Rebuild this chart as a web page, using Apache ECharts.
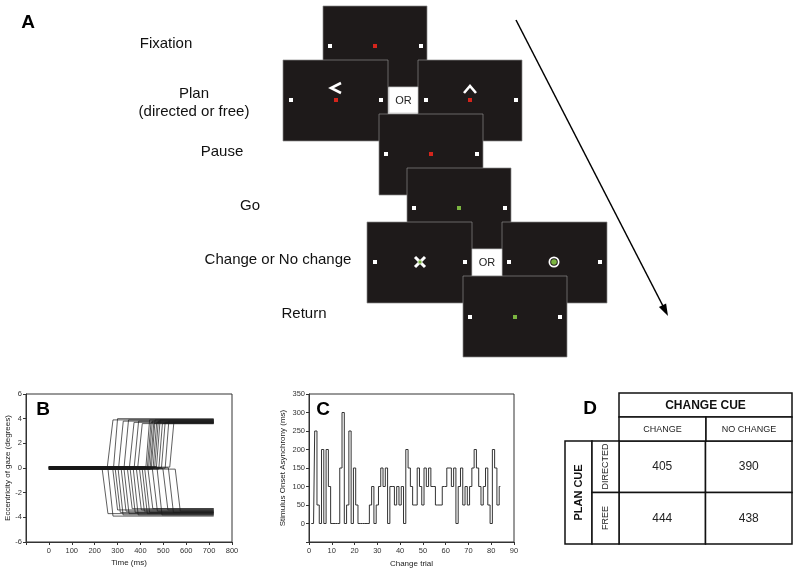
<!DOCTYPE html>
<html><head><meta charset="utf-8">
<script src="https://cdn.jsdelivr.net/npm/echarts@6/dist/echarts.min.js"></script>
<style>html,body{margin:0;padding:0;background:#fff}#c{width:800px;height:577px}</style>
</head><body><div id="c"></div>
<script>
// ---------- Panel A: stage labels ----------
const stageLabels = ['Fixation', 'Plan', '(directed or free)', 'Pause', 'Go', 'Change or No change', 'Return'];

// ---------- Panel B: gaze traces (ms, degrees) ----------
const tStart = 0, tEnd = 720;
const upOnset  = [255, 282, 305, 328, 352, 372, 388, 424, 430, 436, 442, 448, 455, 462, 470, 480, 492, 508, 528];
const upArrive = [280, 300, 325, 348, 372, 392, 408, 440, 446, 452, 458, 464, 471, 478, 486, 496, 508, 524, 546];
const upLevel  = [3.9, 4.0, 3.8, 3.9, 3.7, 3.8, 3.6, 3.9, 3.7, 3.8, 3.6, 3.9, 3.7, 3.8, 3.9, 3.6, 3.7, 3.8, 3.7];
const upBase   = [0.05, -0.08, 0.1, -0.05, 0.08, -0.1, 0.03, 0.12, -0.03, 0.06, -0.12, 0.09, -0.06, 0.02, 0.1, -0.09, 0.04, -0.02, 0.07];
const downOnset  = [232, 258, 278, 290, 302, 315, 328, 342, 355, 368, 382, 395, 408, 418, 432, 452, 472, 498, 522, 552];
const downArrive = [258, 280, 300, 312, 324, 337, 350, 364, 377, 390, 404, 417, 430, 440, 454, 474, 494, 520, 544, 574];
const downLevel  = [-3.7, -3.9, -3.4, -3.6, -3.8, -3.5, -3.7, -3.3, -3.6, -3.8, -3.4, -3.5, -3.7, -3.6, -3.3, -3.5, -3.8, -3.4, -3.6, -3.5];
const downBase   = [0.04, -0.06, 0.09, -0.11, 0.02, 0.07, -0.04, 0.11, -0.08, 0.05, -0.02, 0.08, -0.1, 0.03, 0.06, -0.07, 0.1, -0.05, 0.01, -0.09];

// ---------- Panel C: stimulus onset asynchrony per change trial (ms) ----------
const soa = [0,0,250,50,0,200,0,200,100,0, 0,0,0,150,300,0,50,250,0,150,
             50,0,0,0,0,0,50,100,0,50, 100,150,100,150,0,100,100,50,100,50,
             100,0,200,150,100,50,50,150,100,50, 150,100,150,100,100,50,50,50,100,100,
             150,150,100,150,0,100,150,50,100,50, 100,150,200,150,100,50,100,150,50,0,
             200,150,50,100];

// ---------- Panel D: table ----------
const changeCats = ['CHANGE', 'NO CHANGE'];
const planCats = ['DIRECTED', 'FREE'];
const latency = [[405, 390], [444, 438]];

const FONT = '"Liberation Sans", Arial, sans-serif';
const chart = echarts.init(document.getElementById('c'), null, {renderer: 'canvas'});

// ---------- graphics for panel A and table headers ----------
const g = [];
const SCREEN = '#1e1a1a', EDGE = '#8a8a8a', WHITE = '#ffffff', RED = '#d4251c', GREEN = '#7bb540';
function txt(s, x, y, font, color, rot) {
  g.push({type: 'text', x: x, y: y, rotation: rot || 0,
    style: {text: s, font: font, fill: color || '#111', textAlign: 'center', textVerticalAlign: 'middle', align: 'center', verticalAlign: 'middle'}});
}
function scr(x, y, w, h) { g.push({type: 'rect', shape: {x: x, y: y, width: w, height: h}, style: {fill: SCREEN, stroke: EDGE, lineWidth: 0.7}}); }
function dot(cx, cy, c) { g.push({type: 'rect', shape: {x: cx - 2, y: cy - 2, width: 4, height: 4}, style: {fill: c}}); }
function orBox(x, y, w, h) {
  g.push({type: 'rect', shape: {x: x, y: y, width: w, height: h}, style: {fill: '#fff', stroke: '#aaa', lineWidth: 0.5}});
  txt('OR', x + w / 2, y + h / 2 + 0.5, '11px ' + FONT, '#222');
}
function box(x, y, w, h) { g.push({type: 'rect', shape: {x: x, y: y, width: w, height: h}, style: {fill: '#fff', stroke: '#111', lineWidth: 1.5}}); }

// Panel letter and stage labels
txt('A', 28, 23, 'bold 19px ' + FONT, '#000');
txt(stageLabels[0], 166, 44, '15px ' + FONT, '#111');
txt(stageLabels[1], 194, 94, '15px ' + FONT, '#111');
txt(stageLabels[2], 194, 112, '15px ' + FONT, '#111');
txt(stageLabels[3], 222, 152, '15px ' + FONT, '#111');
txt(stageLabels[4], 250, 206, '15px ' + FONT, '#111');
txt(stageLabels[5], 278, 260, '15px ' + FONT, '#111');
txt(stageLabels[6], 304, 314, '15px ' + FONT, '#111');

// Fixation
scr(323, 6, 104, 81); dot(330, 46, WHITE); dot(421, 46, WHITE); dot(375, 46, RED);
// Plan left
scr(283, 60, 105, 81); dot(291, 100, WHITE); dot(381, 100, WHITE); dot(336, 100, RED);
g.push({type: 'polyline', shape: {points: [[341, 83], [331, 88], [341, 93]]}, style: {stroke: WHITE, lineWidth: 2.6, fill: null}});
// Plan right
scr(418, 60, 104, 81); dot(426, 100, WHITE); dot(516, 100, WHITE); dot(470, 100, RED);
g.push({type: 'polyline', shape: {points: [[464, 93], [470, 86], [476, 93]]}, style: {stroke: WHITE, lineWidth: 2.6, fill: null}});
orBox(389, 87, 29, 26);
// Pause
scr(379, 114, 104, 81); dot(386, 154, WHITE); dot(477, 154, WHITE); dot(431, 154, RED);
// Go
scr(407, 168, 104, 81); dot(414, 208, WHITE); dot(505, 208, WHITE); dot(459, 208, GREEN);
// Change
scr(367, 222, 105, 81); dot(375, 262, WHITE); dot(465, 262, WHITE);
g.push({type: 'line', shape: {x1: 415, y1: 257, x2: 425, y2: 267}, style: {stroke: WHITE, lineWidth: 3}});
g.push({type: 'line', shape: {x1: 425, y1: 257, x2: 415, y2: 267}, style: {stroke: WHITE, lineWidth: 3}});
g.push({type: 'rect', shape: {x: 418.5, y: 260.5, width: 3, height: 3}, style: {fill: GREEN}});
// No change
scr(502, 222, 105, 81); dot(509, 262, WHITE); dot(600, 262, WHITE);
g.push({type: 'circle', shape: {cx: 554, cy: 262, r: 5.5}, style: {fill: WHITE}});
g.push({type: 'circle', shape: {cx: 554, cy: 262, r: 3.8}, style: {fill: SCREEN}});
g.push({type: 'circle', shape: {cx: 554, cy: 262, r: 2.8}, style: {fill: GREEN}});
orBox(472, 249, 30, 27);
// Return
scr(463, 276, 104, 81); dot(470, 317, WHITE); dot(560, 317, WHITE); dot(515, 317, GREEN);
// Time arrow
g.push({type: 'line', shape: {x1: 516, y1: 20, x2: 664, y2: 308}, style: {stroke: '#000', lineWidth: 1.5}});
g.push({type: 'polygon', shape: {points: [[668, 316], [658.9, 307.1], [666.1, 303.5]]}, style: {fill: '#000'}});

// Panel letters B, C, D
txt('B', 43, 410, 'bold 19px ' + FONT, '#000');
txt('C', 323, 410, 'bold 19px ' + FONT, '#000');
txt('D', 590, 409, 'bold 19px ' + FONT, '#000');

// Table headers (D)
box(619, 393, 173, 24); txt('CHANGE CUE', 705.5, 405.5, 'bold 12px ' + FONT, '#111');
box(619, 417, 87, 24); txt(changeCats[0], 662.5, 429.5, '9px ' + FONT, '#222');
box(706, 417, 86, 24); txt(changeCats[1], 749, 429.5, '9px ' + FONT, '#222');
box(565, 441, 27, 103); txt('PLAN CUE', 578.5, 492.5, 'bold 11px ' + FONT, '#111', Math.PI / 2);
box(592, 441, 27, 51.5); txt(planCats[0], 605.5, 466.5, '9px ' + FONT, '#222', Math.PI / 2);
box(592, 492.5, 27, 51.5); txt(planCats[1], 605.5, 518, '9px ' + FONT, '#222', Math.PI / 2);

g.forEach(function (e, i) { e.z = 100 + i; e.silent = true; });

// ---------- series ----------
const series = [];
function traceSeries(on, arr, lvl, base) {
  return {type: 'line', xAxisIndex: 0, yAxisIndex: 0, showSymbol: false, silent: true, animation: false,
    lineStyle: {color: '#1a1a1a', width: 0.7},
    data: [[tStart, base], [on, base], [arr, lvl], [tEnd, lvl]]};
}
upOnset.forEach(function (on, i) { series.push(traceSeries(on, upArrive[i], upLevel[i], upBase[i])); });
downOnset.forEach(function (on, i) { series.push(traceSeries(on, downArrive[i], downLevel[i], downBase[i])); });

series.push({type: 'line', xAxisIndex: 1, yAxisIndex: 1, step: 'middle', showSymbol: false, silent: true, animation: false,
  lineStyle: {color: '#333', width: 1},
  data: soa.map(function (v, i) { return [i + 1, v]; })});

const tableData = [];
latency.forEach(function (row, r) { row.forEach(function (v, c) { tableData.push([c, r, v]); }); });
series.push({type: 'custom', xAxisIndex: 2, yAxisIndex: 2, silent: true, animation: false,
  renderItem: function (params, api) {
    const c = api.coord([api.value(0), api.value(1)]);
    const s = api.size([1, 1]);
    return {type: 'group', children: [
      {type: 'rect', shape: {x: c[0] - s[0] / 2, y: c[1] - s[1] / 2, width: s[0], height: s[1]}, style: {fill: '#fff', stroke: '#111', lineWidth: 1.5}},
      {type: 'text', style: {text: String(api.value(2)), x: c[0], y: c[1], align: 'center', verticalAlign: 'middle', font: '12px ' + FONT, fill: '#222'}}
    ]};
  },
  data: tableData});

const axisCommon = {
  axisLine: {show: true, onZero: false, lineStyle: {color: '#333', width: 1}},
  axisTick: {show: true, length: 3, lineStyle: {color: '#333'}},
  splitLine: {show: false},
  nameLocation: 'middle',
  nameTextStyle: {fontSize: 8, color: '#222', fontFamily: FONT}
};

chart.setOption({
  animation: false,
  backgroundColor: '#fff',
  textStyle: {fontFamily: FONT},
  grid: [
    {left: 26, top: 394, width: 206, height: 148, show: true, borderColor: '#333', borderWidth: 1, containLabel: false},
    {left: 309, top: 394, width: 205, height: 148, show: true, borderColor: '#333', borderWidth: 1, containLabel: false},
    {left: 619, top: 441, width: 173, height: 103, containLabel: false}
  ],
  xAxis: [
    Object.assign({}, axisCommon, {gridIndex: 0, type: 'value', min: -100, max: 800, interval: 100,
      axisLabel: {fontSize: 7.5, color: '#333', margin: 5, formatter: function (v) { return v < 0 ? '' : String(v); }},
      name: 'Time (ms)', nameGap: 17}),
    Object.assign({}, axisCommon, {gridIndex: 1, type: 'value', min: 0, max: 90, interval: 10,
      axisLabel: {fontSize: 7.5, color: '#333', margin: 5},
      name: 'Change trial', nameGap: 18}),
    {gridIndex: 2, type: 'category', data: changeCats, show: false}
  ],
  yAxis: [
    Object.assign({}, axisCommon, {gridIndex: 0, type: 'value', min: -6, max: 6, interval: 2,
      axisLabel: {fontSize: 7.5, color: '#333', margin: 4},
      name: 'Eccentricity of gaze (degrees)', nameGap: 14}),
    Object.assign({}, axisCommon, {gridIndex: 1, type: 'value', min: -50, max: 350, interval: 50,
      axisLabel: {fontSize: 7.5, color: '#333', margin: 4, formatter: function (v) { return v < 0 ? '' : String(v); }},
      name: 'Stimulus Onset Asynchrony (ms)', nameGap: 22}),
    {gridIndex: 2, type: 'category', data: planCats, inverse: true, show: false}
  ],
  graphic: {elements: g},
  series: series
});
</script>
</body></html>
